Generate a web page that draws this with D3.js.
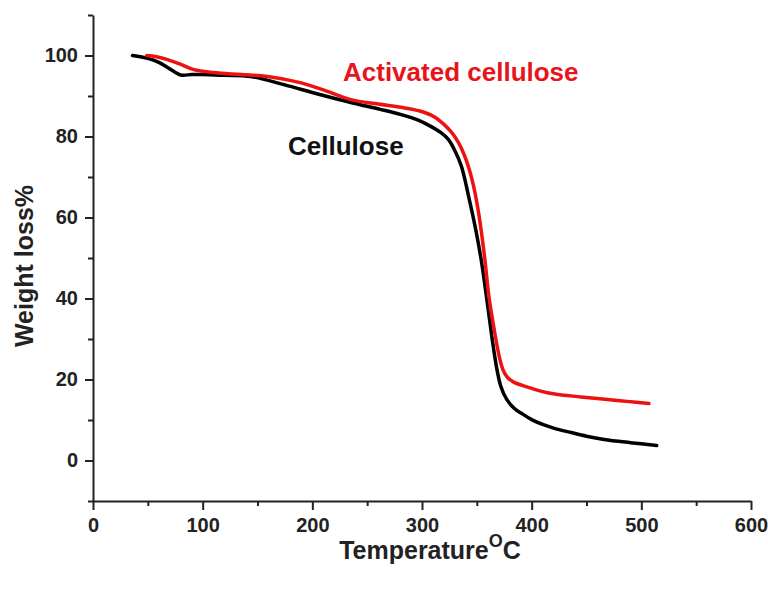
<!DOCTYPE html>
<html>
<head>
<meta charset="utf-8">
<script src="https://cdn.jsdelivr.net/npm/d3@7"></script>
<style>
    body { margin: 0; background: #fff; }
    text { font-family: "Liberation Sans", Arial, sans-serif; font-weight: bold; }
    .axis path, .axis line { stroke: #222; stroke-width: 2px; }
    .axis text { font-size: 20px; fill: #222; }
</style>
</head>
<body>
<div id="chart"></div>
<script>
// cellulose curve (black)
var tempCellulose = [36, 50, 60, 70, 80, 90, 100, 120, 144, 174, 205, 235, 262, 281, 296, 308, 317, 324, 330, 336, 343, 349, 354, 359, 364, 368, 372, 377, 384, 391, 400, 410, 420, 436, 450, 466, 490, 514];
var wCellulose = [100, 99.3, 98.3, 96.7, 95.2, 95.3, 95.3, 95.1, 94.8, 92.8, 90.5, 88.4, 86.7, 85.4, 84.1, 82.5, 81, 79.3, 76.5, 72.6, 64.6, 57, 49.5, 40, 30, 23, 18.2, 15.2, 12.9, 11.6, 10.1, 8.9, 8, 6.9, 6, 5.2, 4.4, 3.7];

// activated cellulose curve (red)
var tempActivated = [49, 58, 68, 80, 92, 110, 135, 159, 189, 210, 235, 260, 281, 298, 311, 320, 327, 333, 338, 343, 347, 352, 357, 361, 364.5, 368, 371, 374, 378, 384, 392, 400, 410, 421, 445, 467, 487, 507];
var wActivated = [100, 99.7, 99, 97.8, 96.5, 95.8, 95.3, 94.8, 93.3, 91.5, 89.1, 88, 87.2, 86.3, 84.9, 83, 81, 78.6, 75.8, 72, 67.8, 60.5, 50.4, 40.5, 34.5, 29, 25, 22.3, 20.5, 19.3, 18.5, 17.8, 17, 16.4, 15.7, 15.1, 14.6, 14.1];

var xTicks = [0, 100, 200, 300, 400, 500, 600];
var xMinor = [50, 150, 250, 350, 450, 550];
var yTicks = [0, 20, 40, 60, 80, 100];
var yMinor = [-10, 10, 30, 50, 70, 90, 110];

var width = 768, height = 593;

var svg = d3.select("#chart").append("svg")
    .attr("width", width)
    .attr("height", height);

var x = d3.scaleLinear().domain([0, 600]).range([93, 751]);
var y = d3.scaleLinear().domain([-10, 110]).range([501, 15]);

// minor ticks first
svg.append("g")
    .attr("class", "axis")
    .attr("transform", "translate(0," + y(-10) + ")")
    .call(d3.axisBottom(x).tickValues(xMinor).tickSize(5).tickSizeOuter(0).tickFormat(""))
    .select(".domain").remove();

svg.append("g")
    .attr("class", "axis")
    .attr("transform", "translate(" + x(0) + ",0)")
    .call(d3.axisLeft(y).tickValues(yMinor).tickSize(5).tickSizeOuter(0).tickFormat(""))
    .select(".domain").remove();

svg.append("g")
    .attr("class", "axis")
    .attr("transform", "translate(0," + y(-10) + ")")
    .call(d3.axisBottom(x).tickValues(xTicks).tickSize(9).tickSizeOuter(0).tickPadding(8));

svg.append("g")
    .attr("class", "axis")
    .attr("transform", "translate(" + x(0) + ",0)")
    .call(d3.axisLeft(y).tickValues(yTicks).tickSize(8).tickSizeOuter(0).tickPadding(7));

var line = d3.line()
    .x(function (d) { return x(d[0]); })
    .y(function (d) { return y(d[1]); })
    .curve(d3.curveCatmullRom.alpha(0.5));

svg.append("path")
    .datum(d3.zip(tempCellulose, wCellulose))
    .attr("fill", "none")
    .attr("stroke", "#000")
    .attr("stroke-width", 3.5)
    .attr("stroke-linejoin", "round")
    .attr("stroke-linecap", "round")
    .attr("d", line);

svg.append("path")
    .datum(d3.zip(tempActivated, wActivated))
    .attr("fill", "none")
    .attr("stroke", "#ee1111")
    .attr("stroke-width", 3.5)
    .attr("stroke-linejoin", "round")
    .attr("stroke-linecap", "round")
    .attr("d", line);

// series labels
svg.append("text")
    .attr("x", 343).attr("y", 81)
    .style("font-size", "26px")
    .style("fill", "#e8141c")
    .text("Activated cellulose");

svg.append("text")
    .attr("x", 288).attr("y", 155)
    .style("font-size", "26px")
    .style("fill", "#111")
    .text("Cellulose");

// axis titles
var xt = svg.append("text")
    .attr("x", 430).attr("y", 559)
    .attr("text-anchor", "middle")
    .style("font-size", "25px")
    .style("fill", "#222");
xt.append("tspan").text("Temperature");
xt.append("tspan").attr("dy", -12).style("font-size", "18px").text("O");
xt.append("tspan").attr("dy", 12).text("C");

svg.append("text")
    .attr("transform", "translate(33,266) rotate(-90)")
    .attr("text-anchor", "middle")
    .style("font-size", "25px")
    .style("fill", "#222")
    .text("Weight loss%");
</script>
</body>
</html>
